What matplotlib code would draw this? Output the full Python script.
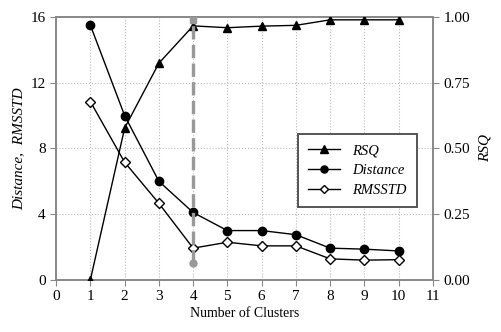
import matplotlib
matplotlib.use("Agg")
import matplotlib.pyplot as plt

plt.rcParams['font.family'] = ['Liberation Serif', 'DejaVu Serif']

# data
clusters = [1, 2, 3, 4, 5, 6, 7, 8, 9, 10]
distance = [15.5, 10.0, 6.0, 4.1, 3.0, 3.0, 2.75, 1.93, 1.87, 1.76]
rmsstd = [10.85, 7.16, 4.66, 1.93, 2.29, 2.07, 2.07, 1.28, 1.2, 1.23]
rsq = [0.0, 0.577, 0.824, 0.966, 0.959, 0.965, 0.968, 0.989, 0.989, 0.989]
best_k = 4

fig = plt.figure(figsize=(5.01, 3.32), dpi=100)
ax = fig.add_axes([0.112, 0.157, 0.752, 0.792])
ax2 = ax.twinx()

gc = '#888888'

ax.plot(clusters, distance, color='black', lw=1, marker='o', ms=6,
        mfc='black', label='Distance', zorder=3)
ax.plot(clusters, rmsstd, color='black', lw=1, marker='D', ms=5,
        mfc='white', mec='black', mew=1, label='RMSSTD', zorder=3)
ax2.plot(clusters, rsq, color='black', lw=1, marker='^', ms=6,
         mfc='black', label='RSQ', zorder=3)

# vertical dashed marker for chosen cluster count (drawn on top)
ax2.plot([best_k, best_k], [1.0 / 16, 1.0], color='#999999', lw=2.4,
         ls=(0, (4, 1.6)), zorder=5)
ax2.plot([best_k], [1.0 / 16], marker='o', color='#999999', ms=5, zorder=5)
ax2.plot([best_k], [0.99], marker='s', color='#999999', ms=4.5, zorder=5)

ax.set_xlim(0, 11)
ax.set_ylim(0, 16)
ax2.set_ylim(0, 1.0)
ax.set_xticks(range(0, 12))
ax.set_yticks([0, 4, 8, 12, 16])
ax2.set_yticks([0, 0.25, 0.5, 0.75, 1.0])
ax2.set_yticklabels(['0.00', '0.25', '0.50', '0.75', '1.00'])

ax.grid(True, color='#bbbbbb', ls=':', lw=0.8)
ax.set_axisbelow(True)

for a in (ax, ax2):
    for s in a.spines.values():
        s.set_color(gc)
        s.set_linewidth(1.2)
    a.tick_params(colors='black', labelsize=11, length=4, color=gc)

ax.set_xlabel('Number of Clusters', fontsize=10, labelpad=3)
ax.set_ylabel('Distance,  RMSSTD', fontsize=11, style='italic', labelpad=4)
ax2.set_ylabel('RSQ', fontsize=11, style='italic', labelpad=6)

h1, l1 = ax.get_legend_handles_labels()
h2, l2 = ax2.get_legend_handles_labels()
leg = ax2.legend(h2 + h1, l2 + l1, loc='upper left',
                 bbox_to_anchor=(0.595, 0.597), bbox_transform=fig.transFigure,
                 borderaxespad=0, fancybox=False, markerscale=0.85,
                 edgecolor='#555555', framealpha=1,
                 prop={'style': 'italic', 'size': 10.5},
                 handlelength=2.2, borderpad=0.7, labelspacing=0.45)
leg.get_frame().set_linewidth(1.4)
leg.set_zorder(6)

fig.savefig('out.png', dpi=100)
